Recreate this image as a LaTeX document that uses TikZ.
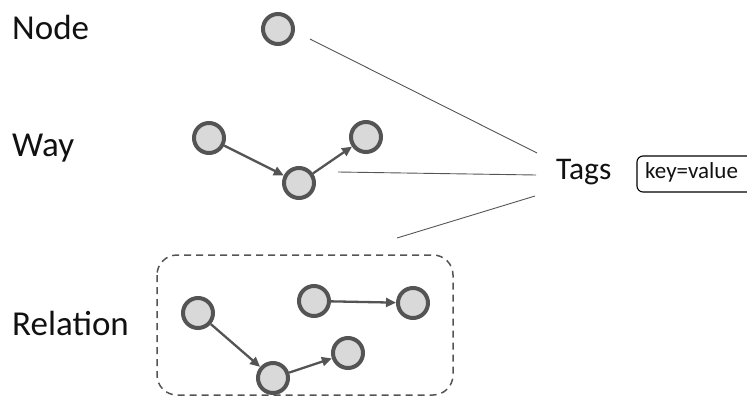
\documentclass[tikz,border=0pt]{standalone}
\usepackage{fontspec}
\setmainfont{Carlito}
\usetikzlibrary{arrows.meta}
\definecolor{dg}{HTML}{545454}
\definecolor{lg}{HTML}{D9D9D9}
\definecolor{ln}{HTML}{555555}
\definecolor{tx}{HTML}{111111}
\tikzset{
  osm/.style={circle,draw=dg,fill=lg,line width=4pt,minimum size=30pt,inner sep=0pt},
  arr/.style={draw=dg,line width=2.3pt,-{Triangle[length=10pt,width=9pt]}},
  link/.style={draw=ln,line width=0.9pt},
  lbl/.style={anchor=base west,inner sep=0pt,text=tx,font=\fontsize{35}{40}\selectfont},
}
\begin{document}
\begin{tikzpicture}[x=1pt,y=-1pt]
\useasboundingbox (0,0) rectangle (747,407);
% labels
\node[lbl] (lnode) at (12,39) {Node};
\node[lbl] (lway) at (12,156) {Way};
\node[lbl] (lrel) at (12,335) {Relation};
\node[lbl,font=\fontsize{31.5}{36}\selectfont] (tags) at (556,179) {Tags};
% key=value box
\draw[draw=black,line width=1.1pt,rounded corners=6pt] (750,156) -- (637,156) -- (637,192) -- (750,192);
\node[lbl,font=\fontsize{23}{27}\selectfont] (kv) at (645,178) {key=value};
% node
\node[osm] (n1) at (278,29) {};
% way
\node[osm] (w1) at (209,138) {};
\node[osm] (w2) at (299,183) {};
\node[osm] (w3) at (366,137) {};
\draw[arr] (w1) -- (w2);
\draw[arr] (w2) -- (w3);
% relation
\draw[draw=dg,line width=1.5pt,dash pattern=on 7pt off 5pt,rounded corners=20pt] (157,255) rectangle (453,395);
\node[osm] (r1) at (198,313) {};
\node[osm] (r2) at (273,378) {};
\node[osm] (r3) at (348,353) {};
\node[osm] (r4) at (314,301) {};
\node[osm] (r5) at (413,303) {};
\draw[arr] (r1) -- (r2);
\draw[arr] (r2) -- (r3);
\draw[arr] (r4) -- (r5);
% connectors to tags
\coordinate (s1) at (310,39);
\coordinate (e1) at (537,153);
\coordinate (s2) at (338,172);
\coordinate (e2) at (536,175);
\coordinate (s3) at (397,238);
\coordinate (e3) at (535,196);
\draw[link] (s1) -- (e1);
\draw[link] (s2) -- (e2);
\draw[link] (s3) -- (e3);
\end{tikzpicture}
\end{document}
